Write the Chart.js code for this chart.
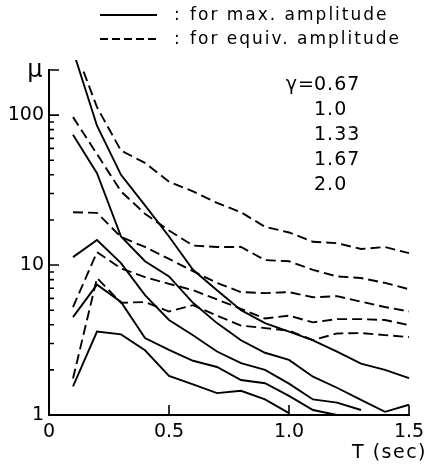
<!DOCTYPE html>
<html lang="en">
<head>
<meta charset="UTF-8">
<title>Ductility factor vs period</title>
<script src="https://cdn.jsdelivr.net/npm/chart.js"></script>
<style>
  body { margin: 0; background: #fff; }
  canvas { display: block; }
</style>
</head>
<body>
<canvas id="muChart" width="432" height="464"></canvas>
<script>
// periods T (sec)
const periods = [0.1, 0.2, 0.3, 0.4, 0.5, 0.6, 0.7, 0.8, 0.9, 1.0, 1.1, 1.2, 1.3, 1.4, 1.5];

// solid: for max. amplitude (gamma = 0.67 ... 2.0)
const maxAmp067 = [270, 85, 40, 25, 15.5, 9.3, 6.8, 5.0, 4.1, 3.6, 3.15, 2.65, 2.2, 2.0, 1.76];
const maxAmp100 = [74, 41, 15.5, 10.6, 8.4, 5.6, 4.1, 3.15, 2.6, 2.33, 1.8, 1.52, 1.26, 1.05, 1.17];
const maxAmp133 = [11.3, 14.7, 10.3, 6.3, 4.3, 3.4, 2.65, 2.22, 2.0, 1.62, 1.27, 1.21, 1.08];
const maxAmp167 = [4.5, 7.4, 5.67, 3.26, 2.72, 2.3, 2.09, 1.71, 1.63, 1.34, 1.08, 1.0];
const maxAmp200 = [1.55, 3.6, 3.45, 2.7, 1.82, 1.6, 1.4, 1.45, 1.27, 1.03];

// dashed: for equiv. amplitude
const eqAmp067 = [300, 113, 58, 48, 36, 31, 26, 22.5, 18, 16.5, 14.3, 14, 12.8, 13.2, 12.0];
const eqAmp100 = [97, 55, 31, 22, 17, 13.5, 13.2, 13.2, 10.8, 10.6, 9.3, 8.4, 8.2, 7.6, 6.9];
const eqAmp133 = [22.5, 22.3, 15.4, 13.2, 11.0, 9.1, 7.6, 6.6, 6.5, 6.6, 6.1, 6.2, 5.7, 5.25, 4.9];
const eqAmp167 = [5.25, 12.2, 9.5, 8.3, 7.5, 6.8, 5.9, 5.1, 4.4, 4.6, 4.15, 4.36, 4.36, 4.3, 3.98];
const eqAmp200 = [1.75, 8.2, 5.6, 5.67, 4.9, 5.4, 4.6, 3.95, 3.8, 3.65, 3.16, 3.5, 3.52, 3.41, 3.31];

const gammas = ['0.67', '1.0', '1.33', '1.67', '2.0'];
const xTicks = [0, 0.5, 1.0, 1.5];
const yTicks = [1, 2, 3, 4, 5, 6, 7, 8, 9, 10, 20, 30, 40, 50, 60, 70, 80, 90, 100, 200];
const yLabels = [1, 10, 100];

const pts = arr => arr.map((v, i) => ({ x: periods[i], y: v }));

function series(data, dashed, clipTop) {
    return {
        data: pts(data),
        borderColor: '#000',
        borderWidth: 1.9,
        borderDash: dashed ? [10, 5] : [],
        pointRadius: 0,
        tension: 0,
        clip: { left: 4, top: clipTop, right: 4, bottom: 2 }
    };
}

const insideTicks = {
    id: 'insideTicks',
    afterDraw(chart) {
        const ctx = chart.ctx;
        const a = chart.chartArea;
        const xs = chart.scales.x, ys = chart.scales.y;
        ctx.save();
        ctx.strokeStyle = '#000';
        ctx.lineWidth = 1.6;
        ctx.beginPath();
        yTicks.forEach(v => {
            if (v === 1) return;
            const y = ys.getPixelForValue(v);
            const len = (v === 10 || v === 100 || v === 200) ? 10 : 5;
            ctx.moveTo(a.left, y);
            ctx.lineTo(a.left + len, y);
        });
        xTicks.forEach(v => {
            if (v === 0) return;
            const x = xs.getPixelForValue(v);
            ctx.moveTo(x, a.bottom);
            ctx.lineTo(x, a.bottom - 10);
        });
        ctx.stroke();

        // legend
        ctx.lineWidth = 2;
        ctx.beginPath();
        ctx.moveTo(100, 15); ctx.lineTo(157, 15);
        ctx.stroke();
        ctx.setLineDash([8, 4]);
        ctx.beginPath();
        ctx.moveTo(100, 39); ctx.lineTo(160, 39);
        ctx.stroke();
        ctx.setLineDash([]);

        ctx.fillStyle = '#000';
        ctx.textBaseline = 'alphabetic';
        ctx.font = '17px "DejaVu Sans"';
        ctx.letterSpacing = '2px';
        ctx.fillText(':', 174, 20);
        ctx.fillText(':', 174, 44);
        ctx.fillText('for max. amplitude', 190, 20);
        ctx.fillText('for equiv. amplitude', 190, 44);

        // gamma list
        ctx.font = '19px "DejaVu Sans"';
        ctx.letterSpacing = '1px';
        ctx.textAlign = 'right';
        ctx.fillText('\u03b3=', 315, 90);
        ctx.textAlign = 'left';
        gammas.forEach((g, i) => ctx.fillText(g, 314, 90 + i * 25));

        // axis titles
        ctx.font = '24px "DejaVu Sans"';
        ctx.letterSpacing = '0px';
        ctx.textAlign = 'center';
        ctx.fillText('\u03bc', 35, 77);
        ctx.font = '19px "DejaVu Sans"';
        ctx.letterSpacing = '1.5px';
        ctx.textAlign = 'left';
        ctx.fillText('T (sec)', 352, 458);
        ctx.restore();
    }
};

new Chart(document.getElementById('muChart'), {
    type: 'line',
    data: {
        datasets: [
            series(maxAmp067, false, 10),
            series(maxAmp100, false, 0),
            series(maxAmp133, false, 0),
            series(maxAmp167, false, 0),
            series(maxAmp200, false, 0),
            series(eqAmp067, true, 0),
            series(eqAmp100, true, 0),
            series(eqAmp133, true, 0),
            series(eqAmp167, true, 0),
            series(eqAmp200, true, 0)
        ]
    },
    options: {
        responsive: false,
        animation: false,
        layout: { padding: { left: 0, right: 23, top: 70, bottom: 0 } },
        plugins: { legend: { display: false }, tooltip: { enabled: false } },
        scales: {
            x: {
                type: 'linear',
                min: 0,
                max: 1.5,
                afterBuildTicks: s => { s.ticks = xTicks.map(v => ({ value: v })); },
                afterFit: s => { s.height = 49; },
                grid: { display: false, drawTicks: false, tickLength: 0 },
                border: { color: '#000', width: 2 },
                ticks: {
                    color: '#000',
                    padding: 6,
                    font: { family: 'DejaVu Sans', size: 19 },
                    callback: v => v === 0 ? '0' : Number(v).toFixed(1)
                }
            },
            y: {
                type: 'logarithmic',
                min: 1,
                max: 200,
                afterBuildTicks: s => { s.ticks = yTicks.map(v => ({ value: v })); },
                afterFit: s => { s.width = 49; },
                grid: { display: false, drawTicks: false, tickLength: 0 },
                border: { color: '#000', width: 2 },
                ticks: {
                    color: '#000',
                    padding: 5,
                    autoSkip: false,
                    font: { family: 'DejaVu Sans', size: 19 },
                    callback: v => yLabels.includes(v) ? String(v) : ''
                }
            }
        }
    },
    plugins: [insideTicks]
});
</script>
</body>
</html>
